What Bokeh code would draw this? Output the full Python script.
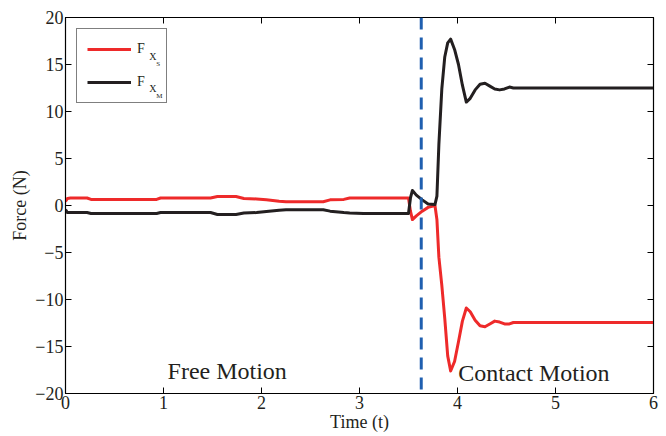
from bokeh.plotting import figure
from bokeh.models import (Range1d, LinearAxis, Span, Label, Legend, LegendItem,
                          FixedTicker, ColumnDataSource)
from bokeh.embed import file_html
from bokeh.resources import INLINE

# ---------------- data ----------------
time = [0.00, 0.02, 0.05, 0.22, 0.26, 0.93, 0.97, 1.48, 1.55, 1.74, 1.82, 1.95,
        2.05, 2.18, 2.25, 2.63, 2.70, 2.84, 2.90, 3.04, 3.10,
        3.50, 3.52, 3.54, 3.58, 3.64, 3.70, 3.77, 3.79, 3.81, 3.84, 3.87, 3.90,
        3.93, 3.97, 4.01, 4.05, 4.09, 4.13, 4.18, 4.23, 4.28, 4.33, 4.38, 4.43,
        4.48, 4.53, 4.57, 4.62, 6.00]
force_slave = [0.45, 0.75, 0.80, 0.80, 0.65, 0.65, 0.80, 0.80, 0.95, 0.95, 0.75,
               0.70, 0.60, 0.45, 0.40, 0.40, 0.60, 0.65, 0.80, 0.80, 0.80,
               0.80, -0.60, -1.50, -1.10, -0.60, -0.20, 0.00, -1.50, -5.50, -8.50,
               -12.0, -16.0, -17.6, -16.6, -14.5, -12.3, -10.9, -11.3, -12.2,
               -12.8, -12.9, -12.6, -12.3, -12.4, -12.6, -12.6, -12.45, -12.45, -12.45]
force_master = [-0.45, -0.75, -0.75, -0.75, -0.85, -0.85, -0.75, -0.75, -0.95, -0.95,
                -0.80, -0.75, -0.65, -0.50, -0.45, -0.45, -0.60, -0.75, -0.80, -0.85,
                -0.85,
                -0.85, 0.80, 1.60, 1.10, 0.60, 0.15, 0.10, 1.00, 6.50, 12.4, 15.8,
                17.3, 17.7, 16.6, 15.0, 12.8, 11.0, 11.4, 12.3, 12.9, 13.0, 12.7,
                12.4, 12.3, 12.4, 12.6, 12.5, 12.5, 12.5]
contact_time = 3.63
x_ticks = [0, 1, 2, 3, 4, 5, 6]
y_ticks = [-20, -15, -10, -5, 0, 5, 10, 15, 20]
phase_labels = ["Free Motion", "Contact Motion"]
phase_label_x = [1.65, 4.78]
phase_label_y = [-17.6, -17.8]

FONT = "Liberation Serif"
RED = "#ee2a2a"
BLACK = "#231f20"
BLUE = "#1f5fb0"

p = figure(width=666, height=436, output_backend="svg", toolbar_location=None,
           x_range=Range1d(0, 6), y_range=Range1d(-20, 20),
           min_border_left=65, min_border_right=13, min_border_top=17,
           min_border_bottom=43)
p.background_fill_color = "white"
p.border_fill_color = "white"
p.outline_line_color = "black"
p.outline_line_width = 1.2
p.xgrid.visible = False
p.ygrid.visible = False

def style_axis(ax, labels=True):
    ax.major_tick_in = 6
    ax.major_tick_out = 0
    ax.minor_tick_line_color = None
    ax.axis_line_color = "black"
    ax.major_tick_line_color = "black"
    ax.major_label_text_font = FONT
    ax.major_label_text_font_size = "18px"
    ax.major_label_text_color = "#231f20"
    ax.major_label_standoff = 2
    ax.axis_label_text_font = FONT
    ax.axis_label_text_font_style = "normal"
    ax.axis_label_text_font_size = "18px"
    ax.axis_label_text_color = "#231f20"
    if not labels:
        ax.major_label_text_font_size = "1px"
        ax.major_label_standoff = 0
        ax.major_label_overrides = {t: "" for t in ax.ticker.ticks}

p.xaxis.ticker = FixedTicker(ticks=x_ticks)
p.yaxis.ticker = FixedTicker(ticks=y_ticks)
p.xaxis.axis_label = "Time (t)"
p.yaxis.axis_label = "Force (N)"
style_axis(p.xaxis[0])
style_axis(p.yaxis[0])
p.xaxis.axis_label_standoff = 0
p.yaxis.axis_label_standoff = 2

top = LinearAxis(ticker=FixedTicker(ticks=x_ticks))
style_axis(top, labels=False)
p.add_layout(top, "above")
right = LinearAxis(ticker=FixedTicker(ticks=y_ticks))
style_axis(right, labels=False)
p.add_layout(right, "right")

src = ColumnDataSource(dict(t=time, fs=force_slave, fm=force_master))
r_red = p.line("t", "fs", source=src, line_color=RED, line_width=3,
               line_join="round")
r_blk = p.line("t", "fm", source=src, line_color=BLACK, line_width=3,
               line_join="round")

p.add_layout(Span(location=contact_time, dimension="height", line_color=BLUE,
                  line_width=3, line_dash="12 8"))

for txt, lx, ly in zip(phase_labels, phase_label_x, phase_label_y):
    p.add_layout(Label(x=lx, y=ly, text=txt, text_font=FONT, text_font_size="24px",
                       text_align="center", text_baseline="middle",
                       text_color="#231f20"))

legend = Legend(items=[LegendItem(label="F", renderers=[r_red]),
                       LegendItem(label="F", renderers=[r_blk])],
                location="top_left", margin=11, padding=10, spacing=13,
                glyph_width=44, glyph_height=20, label_height=20, label_width=19,
                label_standoff=6, label_text_font=FONT, label_text_font_size="14px",
                label_text_color="#231f20", border_line_color="black",
                border_line_width=1.2, background_fill_alpha=0)
p.add_layout(legend)

# subscripts of the legend labels
sub_text = ["X", "S", "X", "M"]
sub_x = [0.855, 0.925, 0.855, 0.925]
sub_y = [15.9, 15.1, 12.4, 11.6]
sub_size = ["10px", "7px", "10px", "7px"]
for s, sx, sy, fs in zip(sub_text, sub_x, sub_y, sub_size):
    p.add_layout(Label(x=sx, y=sy, text=s, text_font=FONT, text_font_size=fs,
                       text_baseline="middle", text_color="#231f20"))

open("out.html", "w").write(file_html(p, INLINE))
